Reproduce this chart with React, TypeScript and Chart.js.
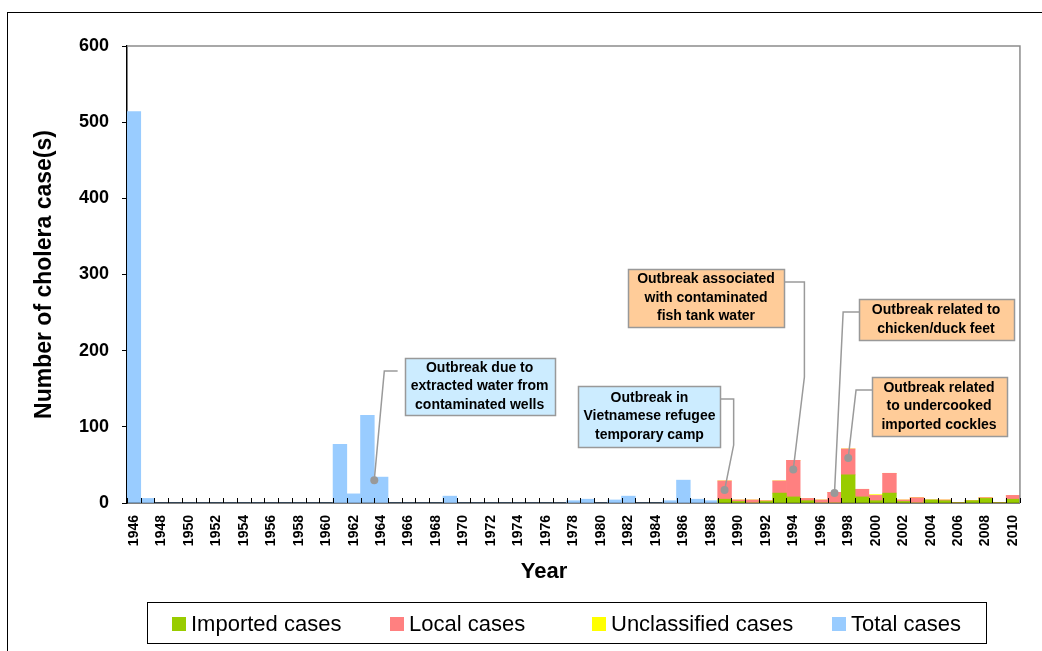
import React, { useEffect, useRef } from "react";
import { Chart, registerables } from "chart.js";

Chart.register(...registerables);

// ---- Data ----
const earlyYears = [
  "1946", "1947", "1948", "1949", "1950", "1951", "1952", "1953", "1954", "1955",
  "1956", "1957", "1958", "1959", "1960", "1961", "1962", "1963", "1964", "1965",
  "1966", "1967", "1968", "1969", "1970", "1971", "1972", "1973", "1974", "1975",
  "1976", "1977", "1978", "1979", "1980", "1981", "1982", "1983", "1984", "1985",
  "1986", "1987", "1988",
];
const recentYears = [
  "1989", "1990", "1991", "1992", "1993", "1994", "1995", "1996", "1997", "1998",
  "1999", "2000", "2001", "2002", "2003", "2004", "2005", "2006", "2007", "2008",
  "2009", "2010",
];
// Total cases, 1946-1988
const totalCases = [
  514, 6, 0, 0, 0, 0, 0, 0, 0, 0,
  0, 0, 0, 0, 0, 77, 12, 115, 34, 0,
  0, 0, 0, 9, 0, 0, 0, 0, 0, 0,
  0, 0, 3, 5, 0, 4, 9, 0, 0, 3,
  30, 5, 3,
];
// 1989-2010
const importedCases = [5, 2, 0, 2, 13, 8, 3, 0, 0, 37, 8, 3, 13, 2, 0, 4, 3, 0, 3, 6, 0, 5];
const localCases = [24, 2, 4, 1, 16, 48, 3, 4, 14, 34, 10, 7, 26, 2, 7, 0, 1, 0, 0, 1, 0, 5];
const unclassifiedCases = [0, 0, 0, 0, 0, 0, 0, 0, 0, 0, 0, 1, 0, 0, 0, 0, 0, 0, 0, 0, 0, 0];

const yTicks = [0, 100, 200, 300, 400, 500, 600];

const seriesLabels = ["Imported cases", "Local cases", "Unclassified cases", "Total cases"];
const seriesColors = ["#99CC00", "#FF8080", "#FFFF00", "#99CCFF"];

// Annotations (positions in year / case units)
const annotations = [
  {
    lines: ["Outbreak due to", "extracted water from", "contaminated wells"],
    fill: "#CCECFF",
    box: { x: 1971.17, y: 153, w: 150, h: 57 },
    path: [[1965.2, 173.3], [1964.23, 173.3]],
    target: [1963.5, 30],
  },
  {
    lines: ["Outbreak in", "Vietnamese refugee", "temporary camp"],
    fill: "#CCECFF",
    box: { x: 1983.53, y: 113.6, w: 142, h: 61 },
    path: [[1988.67, 136.5], [1989.66, 136.5], [1989.66, 76.1]],
    target: [1989, 17],
  },
  {
    lines: ["Outbreak associated", "with contaminated", "fish tank water"],
    fill: "#FFCC99",
    box: { x: 1987.65, y: 269.1, w: 156, h: 58 },
    path: [[1993.29, 290.1], [1994.81, 290.1], [1994.81, 165.4]],
    target: [1994, 44],
  },
  {
    lines: ["Outbreak related to", "chicken/duck feet"],
    fill: "#FFCC99",
    box: { x: 2004.39, y: 240.9, w: 155, h: 41 },
    path: [[1998.79, 250.8], [1997.63, 250.8]],
    target: [1997, 13],
  },
  {
    lines: ["Outbreak related", "to undercooked", "imported cockles"],
    fill: "#FFCC99",
    box: { x: 2004.61, y: 126.7, w: 135, h: 59 },
    path: [[1999.73, 148.4], [1998.57, 148.4]],
    target: [1998, 59],
  },
];

const FONT = "'Liberation Sans', Arial, Helvetica, sans-serif";
const FIRST_YEAR = 1946;

const decorPlugin = {
  id: "decor",
  afterDraw(chart: any) {
    const { ctx, chartArea: a, scales } = chart;
    const x = scales.x;
    const y = scales.y;
    const n = chart.data.labels.length;
    const catW = x.getPixelForValue(1) - x.getPixelForValue(0);
    const px = (yf: number) => x.getPixelForValue(0) + (yf - FIRST_YEAR) * catW;
    const py = (v: number) => y.getPixelForValue(v);

    ctx.save();
    // outer frame
    ctx.strokeStyle = "#000";
    ctx.lineWidth = 1;
    ctx.strokeRect(7.5, 12.5, 1200, 800);

    // plot area top/right border
    ctx.strokeStyle = "#8c8c8c";
    ctx.lineWidth = 1.5;
    ctx.beginPath();
    ctx.moveTo(a.left, a.top);
    ctx.lineTo(a.right, a.top);
    ctx.lineTo(a.right, a.bottom);
    ctx.stroke();

    // inside x ticks at category boundaries
    ctx.strokeStyle = "#000";
    ctx.lineWidth = 1;
    ctx.beginPath();
    for (let i = 0; i <= n; i++) {
      const xx = Math.round(a.left + i * catW) + 0.5;
      ctx.moveTo(xx, a.bottom);
      ctx.lineTo(xx, a.bottom - 5);
    }
    ctx.stroke();

    // x-axis title
    ctx.fillStyle = "#000";
    ctx.font = `bold 22px ${FONT}`;
    ctx.textAlign = "center";
    ctx.textBaseline = "middle";
    ctx.fillText("Year", 544, 572);

    // annotations: leader lines + dots
    annotations.forEach((an) => {
      const bx = px(an.box.x);
      const by = py(an.box.y);
      ctx.strokeStyle = "#9a9a9a";
      ctx.lineWidth = 1.5;
      ctx.beginPath();
      an.path.forEach((p, i) => {
        if (i === 0) ctx.moveTo(px(p[0]), py(p[1]));
        else ctx.lineTo(px(p[0]), py(p[1]));
      });
      ctx.lineTo(px(an.target[0]), py(an.target[1]));
      ctx.stroke();
      ctx.fillStyle = "#999999";
      ctx.beginPath();
      ctx.arc(px(an.target[0]), py(an.target[1]), 4, 0, Math.PI * 2);
      ctx.fill();

      // box
      const l = Math.round(bx - an.box.w / 2) + 0.5;
      const t = Math.round(by - an.box.h / 2) + 0.5;
      ctx.fillStyle = an.fill;
      ctx.fillRect(l, t, an.box.w, an.box.h);
      ctx.strokeStyle = "#999999";
      ctx.lineWidth = 1.5;
      ctx.strokeRect(l, t, an.box.w, an.box.h);
      ctx.fillStyle = "#000";
      ctx.font = `bold 14px ${FONT}`;
      ctx.textAlign = "center";
      ctx.textBaseline = "middle";
      const lh = 18.5;
      const startY = by - ((an.lines.length - 1) * lh) / 2;
      an.lines.forEach((ln, i) => ctx.fillText(ln, bx, startY + i * lh));
    });

    // legend
    ctx.strokeStyle = "#000";
    ctx.lineWidth = 1;
    ctx.strokeRect(147.5, 602.5, 839, 41);
    const itemX = [172, 390, 592, 832];
    ctx.font = `22px ${FONT}`;
    ctx.textAlign = "left";
    ctx.textBaseline = "middle";
    chart.data.datasets.forEach((ds: any, i: number) => {
      ctx.fillStyle = ds.backgroundColor;
      ctx.fillRect(itemX[i], 617, 14, 14);
      ctx.fillStyle = "#000";
      ctx.fillText(ds.label, itemX[i] + 19, 625);
    });
    ctx.restore();
  },
};

export default function App() {
  const ref = useRef<HTMLCanvasElement | null>(null);

  useEffect(() => {
    if (!ref.current) return;
    const categories = [...earlyYears, ...recentYears];
    const pad = (arr: number[], before: number, after: number) => [
      ...Array(before).fill(null),
      ...arr,
      ...Array(after).fill(null),
    ];
    const nE = earlyYears.length;
    const nR = recentYears.length;
    const chart = new Chart(ref.current, {
      type: "bar",
      data: {
        labels: categories,
        datasets: [
          { label: seriesLabels[0], data: pad(importedCases, nE, 0), backgroundColor: seriesColors[0] },
          { label: seriesLabels[1], data: pad(localCases, nE, 0), backgroundColor: seriesColors[1] },
          { label: seriesLabels[2], data: pad(unclassifiedCases, nE, 0), backgroundColor: seriesColors[2] },
          { label: seriesLabels[3], data: pad(totalCases, 0, nR), backgroundColor: seriesColors[3] },
        ],
      },
      options: {
        animation: false,
        responsive: false,
        maintainAspectRatio: false,
        layout: { padding: { left: 0, top: 46, right: 16, bottom: 0 } },
        datasets: { bar: { barPercentage: 1, categoryPercentage: 1, borderWidth: 0 } },
        plugins: {
          legend: { display: false },
          tooltip: { enabled: false },
        },
        scales: {
          x: {
            stacked: true,
            grid: { display: false, drawTicks: false, drawOnChartArea: false },
            border: { display: true, color: "#000", width: 1.5 },
            ticks: {
              autoSkip: false,
              maxRotation: 90,
              minRotation: 90,
              padding: 12,
              color: "#000",
              font: { family: FONT, size: 14, weight: "bold" },
              callback: (_v: any, i: number) => (i % 2 === 0 ? categories[i] : ""),
            },
            afterFit: (s: any) => {
              s.height = 148;
            },
          },
          y: {
            stacked: true,
            min: 0,
            max: 600,
            afterBuildTicks: (s: any) => {
              s.ticks = yTicks.map((v) => ({ value: v }));
            },
            grid: { display: true, drawOnChartArea: false, drawTicks: true, tickLength: 5, color: "#000" },
            border: { display: true, color: "#000", width: 1.5 },
            ticks: {
              padding: 13,
              color: "#000",
              font: { family: FONT, size: 18, weight: "bold" },
            },
            title: {
              display: true,
              text: "Number of cholera case(s)",
              color: "#000",
              font: { family: FONT, size: 23, weight: "bold" },
              padding: { top: 31, bottom: 0 },
            },
            afterFit: (s: any) => {
              s.width = 127;
            },
          },
        },
      },
      plugins: [decorPlugin],
    });
    return () => chart.destroy();
  }, []);

  return (
    <div style={{ position: "absolute", left: 0, top: 0, width: 1042, height: 651, background: "#fff" }}>
      <canvas ref={ref} width={1042} height={651} />
    </div>
  );
}
